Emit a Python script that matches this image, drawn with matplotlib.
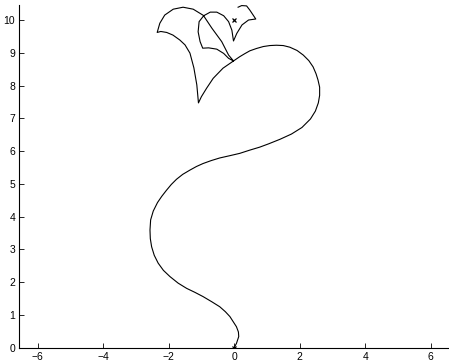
import numpy as np
import matplotlib
matplotlib.use('Agg')
import matplotlib.pyplot as plt

plt.rcParams['font.family'] = ['Liberation Sans', 'DejaVu Sans']

# Start and goal positions
start = (0.0, 0.0)
goal = (0.0, 10.0)

# Forward run: start -> S-bend -> big loop -> junction -> first cusp
run1_x = [0.0, 0.07, 0.14, 0.13, 0.07, -0.13, -0.27, -0.44, -0.68, -0.95, -1.20, -1.45,
          -1.71, -1.96, -2.16, -2.32, -2.44, -2.52, -2.56, -2.57, -2.55, -2.47, -2.34,
          -2.21, -2.07, -1.92, -1.76, -1.57, -1.35, -1.15, -0.95, -0.70, -0.44, -0.13,
          0.17, 0.48, 0.78, 1.05, 1.40, 1.75, 2.07, 2.33, 2.48, 2.57, 2.61, 2.61, 2.56,
          2.50, 2.41, 2.28, 2.11, 1.92, 1.70, 1.50, 1.29, 1.09, 0.89, 0.68, 0.48, 0.32,
          0.17, -0.02, -0.34, -0.64, -0.84, -1.00, -1.09]
run1_y = [0.0, 0.13, 0.34, 0.48, 0.64, 0.95, 1.10, 1.25, 1.40, 1.56, 1.69, 1.81,
          1.97, 2.17, 2.36, 2.58, 2.82, 3.08, 3.33, 3.59, 3.90, 4.17, 4.43,
          4.62, 4.80, 4.98, 5.14, 5.29, 5.42, 5.53, 5.62, 5.71, 5.79, 5.86,
          5.93, 6.03, 6.12, 6.22, 6.36, 6.52, 6.72, 6.98, 7.22, 7.47, 7.70, 7.95, 8.17,
          8.36, 8.57, 8.76, 8.93, 9.07, 9.17, 9.22, 9.23, 9.22, 9.19, 9.13, 9.06, 8.97,
          8.88, 8.75, 8.53, 8.22, 7.92, 7.66, 7.47]

# Reverse to the left cusp
run2_x = [-1.09, -1.14, -1.23, -1.35, -1.50, -1.66, -1.87, -2.06, -2.24, -2.35]
run2_y = [7.47, 8.02, 8.54, 8.99, 9.24, 9.39, 9.54, 9.62, 9.65, 9.62]

# Arc over the top back down to the junction
run3_x = [-2.35, -2.27, -2.12, -1.86, -1.56, -1.25, -0.94, -0.68, -0.38, -0.17, -0.02]
run3_y = [9.62, 9.90, 10.15, 10.33, 10.39, 10.33, 10.14, 9.75, 9.34, 8.93, 8.75]

# Back out to the left again
run4_x = [-0.02, -0.17, -0.32, -0.53, -0.78, -0.96]
run4_y = [8.75, 8.83, 8.98, 9.11, 9.15, 9.14]

# Small loop, then the last manoeuvres near the goal
run5_x = [-0.96, -1.04, -1.10, -1.07, -0.93, -0.73, -0.53, -0.32, -0.17, -0.07, -0.02,
          0.08, 0.24, 0.44, 0.66, 0.58, 0.48, 0.38, 0.23, 0.12]
run5_y = [9.14, 9.34, 9.64, 9.95, 10.13, 10.24, 10.24, 10.13, 9.95, 9.69, 9.36,
          9.59, 9.85, 10.00, 10.03, 10.15, 10.30, 10.43, 10.44, 10.39]

path_x = run1_x + run2_x[1:] + run3_x[1:] + run4_x[1:] + run5_x[1:]
path_y = run1_y + run2_y[1:] + run3_y[1:] + run4_y[1:] + run5_y[1:]

fig = plt.figure(figsize=(4.49, 3.62), dpi=100)
ax = fig.add_axes([0.043, 0.0395, 0.957, 0.946])

ax.plot(path_x, path_y, color='black', linewidth=0.8)
ax.plot([start[0], goal[0]], [start[1], goal[1]], linestyle='none', marker='x',
        color='black', markersize=3.5, markeredgewidth=0.9)

ax.set_xlim(-6.56, 6.56)
ax.set_ylim(0, 10.45)
ax.set_xticks(np.arange(-6, 7, 2))
ax.set_yticks(np.arange(0, 11, 1))

ax.spines['top'].set_visible(False)
ax.spines['right'].set_visible(False)
ax.spines['left'].set_linewidth(0.8)
ax.spines['bottom'].set_linewidth(0.8)
ax.tick_params(direction='in', length=3.5, width=0.6, labelsize=7.5, pad=3)

fig.savefig('out.png', dpi=100)
